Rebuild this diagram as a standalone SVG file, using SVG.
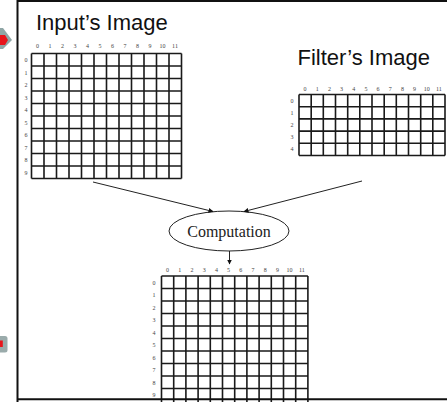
<svg xmlns="http://www.w3.org/2000/svg" width="447" height="402" viewBox="0 0 447 402">
<style>
.title{font-family:"Liberation Sans",Arial,sans-serif;font-size:22px;fill:#111}
.lbl{font-family:"Liberation Serif","Times New Roman",serif;font-size:6px;fill:#444;text-anchor:middle}
.grid{stroke:#1a1a1a;stroke-width:1.6;fill:none}
.conn{stroke:#222;stroke-width:1;fill:none;marker-end:url(#ah)}
.frame{stroke:#111;stroke-width:2;fill:none}
</style>
<defs>
<marker id="ah" viewBox="0 0 10 10" refX="9" refY="5" markerWidth="5" markerHeight="5" orient="auto" markerUnits="userSpaceOnUse">
<path d="M0,0 L10,5 L0,10 Z" fill="#111"/>
</marker>
</defs>
<rect width="447" height="402" fill="#fff"/>
<g id="frame">
<path class="frame" d="M17.5,402 V1 H447"/>
</g>
<g id="icons">
<polygon points="0,28 3,28 12,40 3,49 0,49" fill="#8fa6a6"/>
<polygon points="0,35 5,35 8,40 5,45 0,45" fill="#e8141b"/>
<rect x="-3" y="336" width="10.5" height="16.5" rx="2.5" fill="#9aabab"/>
<rect x="0" y="340.5" width="2.8" height="6.5" fill="#e8141b"/>
</g>
<g id="input">
<text class="title" x="36" y="29.5">Input’s Image</text>
<path class="grid" d="M31.5,53.5V178.5M44,53.5V178.5M56.5,53.5V178.5M69,53.5V178.5M81.5,53.5V178.5M94,53.5V178.5M106.5,53.5V178.5M119,53.5V178.5M131.5,53.5V178.5M144,53.5V178.5M156.5,53.5V178.5M169,53.5V178.5M181.5,53.5V178.5M31.5,53.5H181.5M31.5,66H181.5M31.5,78.5H181.5M31.5,91H181.5M31.5,103.5H181.5M31.5,116H181.5M31.5,128.5H181.5M31.5,141H181.5M31.5,153.5H181.5M31.5,166H181.5M31.5,178.5H181.5"/>
<g class="lbl">
<text x="37.5" y="47.5">0</text><text x="50" y="47.5">1</text><text x="62.5" y="47.5">2</text><text x="75" y="47.5">3</text><text x="87.5" y="47.5">4</text><text x="100" y="47.5">5</text><text x="112.5" y="47.5">6</text><text x="125" y="47.5">7</text><text x="137.5" y="47.5">8</text><text x="150" y="47.5">9</text><text x="162.5" y="47.5">10</text><text x="175" y="47.5">11</text>
<text x="26" y="62">0</text><text x="26" y="74.5">1</text><text x="26" y="87">2</text><text x="26" y="99.5">3</text><text x="26" y="112">4</text><text x="26" y="124.5">5</text><text x="26" y="137">6</text><text x="26" y="149.5">7</text><text x="26" y="162">8</text><text x="26" y="174.5">9</text>
</g>
</g>
<g id="filter">
<text class="title" x="297.5" y="65">Filter’s Image</text>
<path class="grid" d="M299,94.5V155.5M311.2,94.5V155.5M323.3,94.5V155.5M335.5,94.5V155.5M347.7,94.5V155.5M359.8,94.5V155.5M372,94.5V155.5M384.2,94.5V155.5M396.3,94.5V155.5M408.5,94.5V155.5M420.7,94.5V155.5M432.8,94.5V155.5M445,94.5V155.5M299,94.5H445M299,106.7H445M299,118.9H445M299,131.1H445M299,143.3H445M299,155.5H445"/>
<g class="lbl">
<text x="305" y="91">0</text><text x="317.2" y="91">1</text><text x="329.4" y="91">2</text><text x="341.6" y="91">3</text><text x="353.8" y="91">4</text><text x="365.9" y="91">5</text><text x="378.1" y="91">6</text><text x="390.3" y="91">7</text><text x="402.4" y="91">8</text><text x="414.6" y="91">9</text><text x="426.8" y="91">10</text><text x="438.9" y="91">11</text>
<text x="292" y="102.6">0</text><text x="292" y="114.8">1</text><text x="292" y="127">2</text><text x="292" y="139.2">3</text><text x="292" y="151.4">4</text>
</g>
</g>
<g id="computation">
<ellipse cx="229" cy="231" rx="60" ry="20" fill="#fff" stroke="#222" stroke-width="1"/>
<text x="229" y="236.5" font-family="'Liberation Serif','Times New Roman',serif" font-size="16" text-anchor="middle" fill="#222">Computation</text>
</g>
<g id="output">
<path class="grid" d="M161.5,276V402M173.7,276V402M185.9,276V402M198.1,276V402M210.3,276V402M222.5,276V402M234.7,276V402M246.9,276V402M259.1,276V402M271.3,276V402M283.5,276V402M295.7,276V402M307.9,276V402M161.5,276H307.9M161.5,288.5H307.9M161.5,301H307.9M161.5,313.5H307.9M161.5,326H307.9M161.5,338.5H307.9M161.5,351H307.9M161.5,363.5H307.9M161.5,376H307.9M161.5,388.5H307.9"/>
<g class="lbl">
<text x="167.6" y="272">0</text><text x="179.8" y="272">1</text><text x="192" y="272">2</text><text x="204.2" y="272">3</text><text x="216.4" y="272">4</text><text x="228.6" y="272">5</text><text x="240.8" y="272">6</text><text x="253" y="272">7</text><text x="265.2" y="272">8</text><text x="277.4" y="272">9</text><text x="289.6" y="272">10</text><text x="301.8" y="272">11</text>
<text x="154" y="284.5">0</text><text x="154" y="297">1</text><text x="154" y="309.5">2</text><text x="154" y="322">3</text><text x="154" y="334.5">4</text><text x="154" y="347">5</text><text x="154" y="359.5">6</text><text x="154" y="372">7</text><text x="154" y="384.5">8</text><text x="154" y="397">9</text>
</g>
</g>
<g id="connectors">
<line class="conn" x1="93" y1="182" x2="213" y2="211.5"/>
<line class="conn" x1="362" y1="181" x2="244" y2="211.5"/>
<line class="conn" x1="229.5" y1="251" x2="229.5" y2="264"/>
</g>
<path class="frame" d="M17.5,399.3 H447"/>
</svg>
